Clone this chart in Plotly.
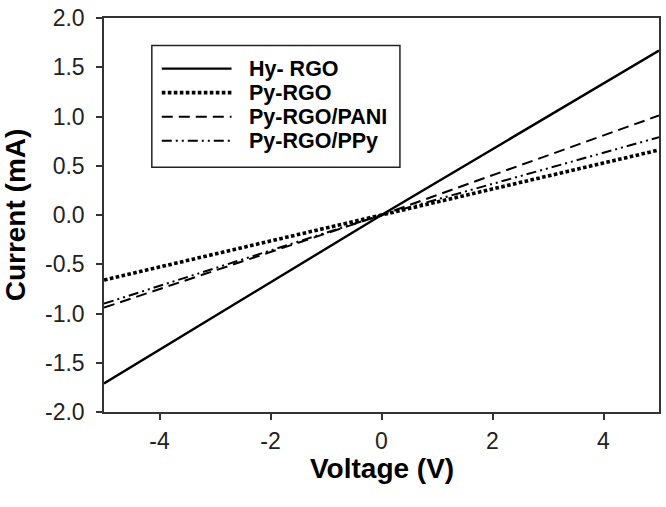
import plotly.graph_objects as go

# Data
voltage = [-5.0, 0.0, 5.0]
hy_rgo = [-1.71, 0.0, 1.67]
py_rgo = [-0.66, 0.0, 0.66]
py_rgo_pani = [-0.94, 0.0, 1.01]
py_rgo_ppy = [-0.90, 0.0, 0.79]

series_names = ["Hy- RGO", "Py-RGO", "Py-RGO/PANI", "Py-RGO/PPy"]
series_values = [hy_rgo, py_rgo, py_rgo_pani, py_rgo_ppy]
line_styles = [
    dict(color="black", width=2.4, dash="solid"),
    dict(color="black", width=3.6, dash="3.6px,2.4px"),
    dict(color="black", width=2.0, dash="11px,6px"),
    dict(color="black", width=2.0, dash="10px,4px,2px,4px,2px,4px"),
]

x_ticks = [-4, -2, 0, 2, 4]
x_tick_labels = ["-4", "-2", "0", "2", "4"]
y_ticks = [-2.0, -1.5, -1.0, -0.5, 0.0, 0.5, 1.0, 1.5, 2.0]
y_tick_labels = ["-2.0", "-1.5", "-1.0", "-0.5", "0.0", "0.5", "1.0", "1.5", "2.0"]

FONT = "Liberation Sans, Arial, sans-serif"

fig = go.Figure()
for name, vals, ls in zip(series_names, series_values, line_styles):
    fig.add_trace(go.Scatter(x=voltage, y=vals, mode="lines", name=name,
                             line=ls, showlegend=False, hoverinfo="skip"))

# plot area geometry (px) for the custom legend
L, R, T, B = 104, 661, 11, 412
W, H = R - L, B - T

def px(xp):
    return (xp - L) / W

def py(yp):
    return (B - yp) / H

shapes = [dict(type="rect", xref="paper", yref="paper",
               x0=px(152), x1=px(401), y0=py(163), y1=py(39),
               line=dict(color="#222", width=1.5), fillcolor="white", layer="above")]
annotations = []
row_y = [62.5, 87.0, 111.5, 136.0]
for name, ls, yy in zip(series_names, line_styles, row_y):
    shapes.append(dict(type="line", xref="paper", yref="paper",
                       x0=px(162), x1=px(232), y0=py(yy), y1=py(yy),
                       line=ls, layer="above"))
    annotations.append(dict(xref="paper", yref="paper", x=px(248), y=py(yy),
                            xanchor="left", yanchor="middle", showarrow=False,
                            text="<b>%s</b>" % name,
                            font=dict(family=FONT, size=21.5, color="black")))

annotations.append(dict(xref="paper", yref="paper", x=0.5, y=py(469),
                        xanchor="center", yanchor="middle", showarrow=False,
                        text="<b>Voltage (V)</b>",
                        font=dict(family=FONT, size=28, color="black")))
annotations.append(dict(xref="paper", yref="paper", x=px(15), y=0.5,
                        xanchor="center", yanchor="middle", showarrow=False,
                        textangle=-90, text="<b>Current (mA)</b>",
                        font=dict(family=FONT, size=28, color="black")))

fig.update_layout(
    width=666, height=507,
    margin=dict(l=L, r=666 - R, t=T, b=507 - B),
    plot_bgcolor="white", paper_bgcolor="white",
    shapes=shapes, annotations=annotations,
    font=dict(family=FONT, color="#222"),
)
fig.update_xaxes(range=[-5, 5], tickvals=x_ticks, ticktext=x_tick_labels,
                 ticks="outside", ticklen=6, ticklabelstandoff=2,
                 tickwidth=1.5, tickcolor="#333", showgrid=False, zeroline=False,
                 showline=True, linecolor="#333", linewidth=1.5, mirror=True,
                 tickfont=dict(family=FONT, size=23, color="#222"))
fig.update_yaxes(range=[-2, 2], tickvals=y_ticks, ticktext=y_tick_labels,
                 ticks="outside", ticklabeloverflow="allow", ticklabelstandoff=7,
                 ticklen=6, tickwidth=1.5, tickcolor="#333", showgrid=False,
                 zeroline=False, showline=True, linecolor="#333", linewidth=1.5,
                 mirror=True, tickfont=dict(family=FONT, size=23, color="#222"))

fig.write_html("out.html", config={"displayModeBar": False},
               post_script="document.body.style.margin='0';document.body.style.overflow='hidden';")
